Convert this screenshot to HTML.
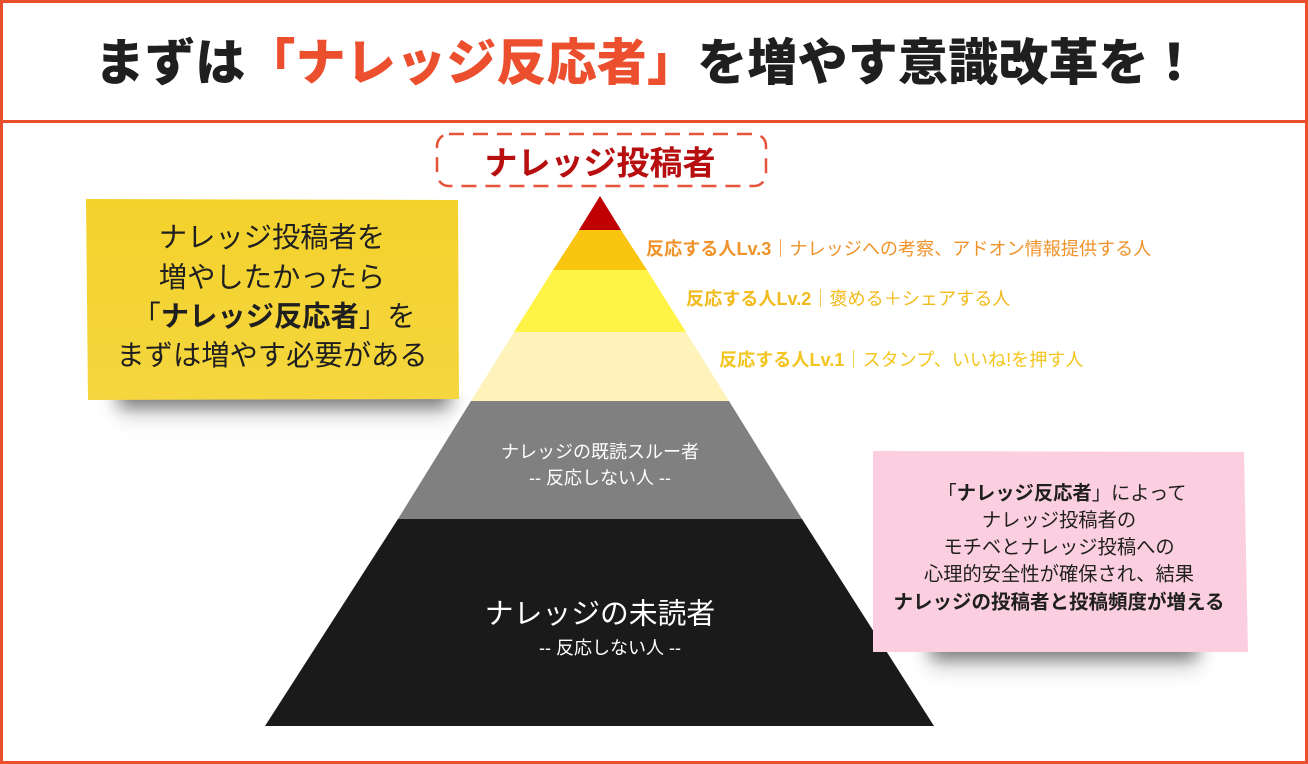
<!DOCTYPE html>
<html lang="ja">
<head>
<meta charset="utf-8">
<style>
html,body{margin:0;padding:0;background:#fff}
#p{position:relative;width:1308px;height:764px;overflow:hidden;background:#fff;font-family:"Liberation Sans","Noto Sans CJK JP",sans-serif;color:#1f1f1f}
.t{position:absolute;white-space:nowrap;line-height:1;transform:translate(-50%,-50%)}
.l{position:absolute;white-space:nowrap;line-height:1;transform:translateY(-50%);font-size:18.1px}
svg{position:absolute;left:0;top:0}
b{font-weight:700}
</style>
</head>
<body>
<div id="p">
<svg width="1308" height="764" viewBox="0 0 1308 764">
<defs>
<filter id="bl" x="-20%" y="-100%" width="140%" height="300%"><feGaussianBlur stdDeviation="9 2"/></filter>
<linearGradient id="yg" x1="0" y1="0" x2="0" y2="1"><stop offset="0" stop-color="#f3d22c"/><stop offset="1" stop-color="#f5d63e"/></linearGradient>
<linearGradient id="sg" x1="0" y1="0" x2="0" y2="1"><stop offset="0" stop-color="#666" stop-opacity=".9"/><stop offset=".3" stop-color="#888" stop-opacity=".6"/><stop offset=".5" stop-color="#aaa" stop-opacity=".28"/><stop offset=".75" stop-color="#ccc" stop-opacity=".1"/><stop offset="1" stop-color="#ddd" stop-opacity="0"/></linearGradient>
</defs>
<rect x="1.5" y="1.5" width="1305" height="761" fill="none" stroke="#ec4f2e" stroke-width="3"/>
<line x1="0" y1="121.5" x2="1308" y2="121.5" stroke="#ec4f2e" stroke-width="3"/>
<rect x="437" y="134" width="329" height="52" rx="12" fill="none" stroke="#e5533a" stroke-width="2.5" stroke-dasharray="15 9"/>
<polygon points="600,196 621,230 579,230" fill="#c00000"/>
<polygon points="579,230 621,230 647,270 553,270" fill="#f9c50f"/>
<polygon points="553,270 647,270 686,332 514,332" fill="#fff345"/>
<polygon points="514,332 686,332 729,401 471,401" fill="#fdf3bb"/>
<polygon points="471,401 729,401 802,519 398,519" fill="#808080"/>
<polygon points="398,519 802,519 934,726 265,726" fill="#1a1a1a"/>
<rect x="118" y="396" width="332" height="42" fill="url(#sg)" filter="url(#bl)"/>
<polygon points="86,199 458,200 459,399 88,400" fill="url(#yg)"/>
<rect x="930" y="648" width="268" height="42" fill="url(#sg)" filter="url(#bl)"/>
<polygon points="873,451 1244,452 1248,652 873,652" fill="#fccfe0"/>
</svg>

<div class="t" style="left:647px;top:63px;font-size:50px;font-weight:900;letter-spacing:.2px"><span>まずは</span><span style="color:#ec4f2e">「ナレッジ反応者」</span><span>を増やす意識改革を！</span></div>

<div class="t" style="left:600px;top:163px;font-size:33px;font-weight:700;color:#b70f0f">ナレッジ投稿者</div>

<div class="t" style="left:272px;top:237px;font-size:28.3px">ナレッジ投稿者を</div>
<div class="t" style="left:272px;top:277px;font-size:28.3px">増やしたかったら</div>
<div class="t" style="left:274px;top:316px;font-size:28.3px">「<b>ナレッジ反応者</b>」を</div>
<div class="t" style="left:272px;top:355px;font-size:28.3px">まずは増やす必要がある</div>

<div class="l" style="left:646px;top:249px;color:#f0932b"><b>反応する人Lv.3</b>｜ナレッジへの考察、アドオン情報提供する人</div>
<div class="l" style="left:686px;top:299px;color:#f2bb1d"><b>反応する人Lv.2</b>｜褒める＋シェアする人</div>
<div class="l" style="left:719px;top:360px;color:#f3c51f"><b>反応する人Lv.1</b>｜スタンプ、いいね!を押す人</div>

<div class="t" style="left:600px;top:452px;font-size:18px;color:#fff">ナレッジの既読スルー者</div>
<div class="t" style="left:600px;top:478px;font-size:18px;color:#fff">-- 反応しない人 --</div>
<div class="t" style="left:600px;top:615px;font-size:28.8px;color:#fff">ナレッジの未読者</div>
<div class="t" style="left:610px;top:648px;font-size:18px;color:#fff">-- 反応しない人 --</div>

<div class="t" style="left:1062px;top:494px;font-size:19.3px">「<b>ナレッジ反応者</b>」によって</div>
<div class="t" style="left:1059px;top:521px;font-size:19.3px">ナレッジ投稿者の</div>
<div class="t" style="left:1059px;top:548px;font-size:19.3px">モチベとナレッジ投稿への</div>
<div class="t" style="left:1059px;top:575px;font-size:19.3px">心理的安全性が確保され、結果</div>
<div class="t" style="left:1059px;top:603px;font-size:19.5px;font-weight:700">ナレッジの投稿者と投稿頻度が増える</div>
</div>
</body>
</html>
